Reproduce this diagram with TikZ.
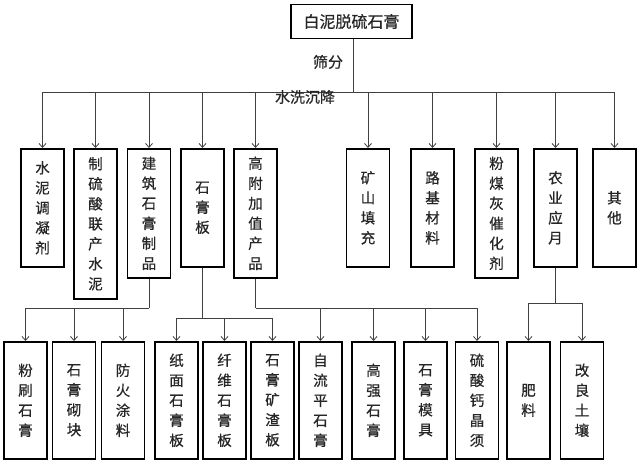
\documentclass[tikz,border=0pt]{standalone}
\usepackage{fontspec}
\newfontfamily\cjk[FakeBold=0.6]{Noto Sans CJK SC}
\usetikzlibrary{arrows.meta}
\begin{document}
\begin{tikzpicture}[x=1pt,y=-1pt,
  box/.style={draw=black,line width=1.6pt,minimum width=43pt,inner sep=0pt,anchor=north,
    align=center,text=black!85,font=\cjk\fontsize{14.5}{20}\selectfont},
  topbox/.style={draw=black,line width=1.6pt,minimum width=121pt,minimum height=34pt,inner sep=0pt,
    text=black!85,font=\cjk\fontsize{16}{20}\selectfont},
  conn/.style={draw=black!75,line width=0.8pt},
  arr/.style={conn,-{Straight Barb[length=4pt,width=7pt,line width=0.8pt]}},
  lab/.style={font=\cjk\fontsize{15}{18}\selectfont,text=black!85,inner sep=0pt}]
\useasboundingbox[fill=white] (0,0) rectangle (640,463);

\node[topbox] (top) at (351.5,21.5) {白泥脱硫石膏};

% row 1
\node[box,minimum height=118pt] (b1) at (42.5,148) {水\\泥\\调\\凝\\剂};
\node[box,minimum height=150pt] (b2) at (95.5,148) {制\\硫\\酸\\联\\产\\水\\泥};
\node[box,minimum height=129pt] (b3) at (149,148) {建\\筑\\石\\膏\\制\\品};
\node[box,minimum height=118pt] (b4) at (202.5,148) {石\\膏\\板};
\node[box,minimum height=129pt] (b5) at (255.5,148) {高\\附\\加\\值\\产\\品};
\node[box,minimum height=118pt] (b6) at (368,148) {矿\\山\\填\\充};
\node[box,minimum height=118pt] (b7) at (432.5,148) {路\\基\\材\\料};
\node[box,minimum height=129pt] (b8) at (496.5,148) {粉\\煤\\灰\\催\\化\\剂};
\node[box,minimum height=118pt] (b9) at (555.5,148) {农\\业\\应\\月};
\node[box,minimum height=118pt] (b10) at (614.5,148) {其\\他};

% row 2
\node[box,minimum height=117pt] (c1) at (25.5,341) {粉\\刷\\石\\膏};
\node[box,minimum height=117pt] (c2) at (74,341) {石\\膏\\砌\\块};
\node[box,minimum height=117pt] (c3) at (123,341) {防\\火\\涂\\料};
\node[box,minimum height=117pt] (c4) at (176.5,341) {纸\\面\\石\\膏\\板};
\node[box,minimum height=117pt] (c5) at (224.5,341) {纤\\维\\石\\膏\\板};
\node[box,minimum height=117pt] (c6) at (272.5,341) {石\\膏\\矿\\渣\\板};
\node[box,minimum height=117pt] (c7) at (320.5,341) {自\\流\\平\\石\\膏};
\node[box,minimum height=117pt] (c8) at (373.5,341) {高\\强\\石\\膏};
\node[box,minimum height=117pt] (c9) at (425.5,341) {石\\膏\\模\\具};
\node[box,minimum height=117pt] (c10) at (477,341) {硫\\酸\\钙\\晶\\须};
\node[box,minimum height=117pt] (c11) at (528.5,341) {肥\\料};
\node[box,minimum height=117pt] (c12) at (582,341) {改\\良\\土\\壤};

% top connectors
\coordinate (h) at (353,92);
\draw[conn] (top.south -| h) -- (h);
\draw[conn] (b1.north |- h) -- (b10.north |- h);
\foreach \b in {b1,b2,b3,b4,b5,b6,b7,b8,b9,b10}
  \draw[arr] (\b.north |- h) -- (\b.north);
\node[lab] (l1) at (328,62) {筛分};
\node[lab] (l2) at (305,97) {水洗沉降};

% lower connectors
\coordinate (h3) at (149,308);
\draw[conn] (b3.south) -- (h3);
\draw[conn] (c1.north |- h3) -- (h3);
\foreach \c in {c1,c2,c3}
  \draw[arr] (\c.north |- h3) -- (\c.north);

\coordinate (h4) at (202.5,318);
\draw[conn] (b4.south) -- (h4);
\draw[conn] (c4.north |- h4) -- (c6.north |- h4);
\foreach \c in {c4,c5,c6}
  \draw[arr] (\c.north |- h4) -- (\c.north);

\coordinate (h5) at (255.5,308);
\draw[conn] (b5.south) -- (h5);
\draw[conn] (h5) -- (c10.north |- h5);
\foreach \c in {c7,c8,c9,c10}
  \draw[arr] (\c.north |- h5) -- (\c.north);

\coordinate (h9) at (555.5,303);
\draw[conn] (b9.south) -- (h9);
\draw[conn] (c11.north |- h9) -- (c12.north |- h9);
\foreach \c in {c11,c12}
  \draw[arr] (\c.north |- h9) -- (\c.north);
\end{tikzpicture}
\end{document}
